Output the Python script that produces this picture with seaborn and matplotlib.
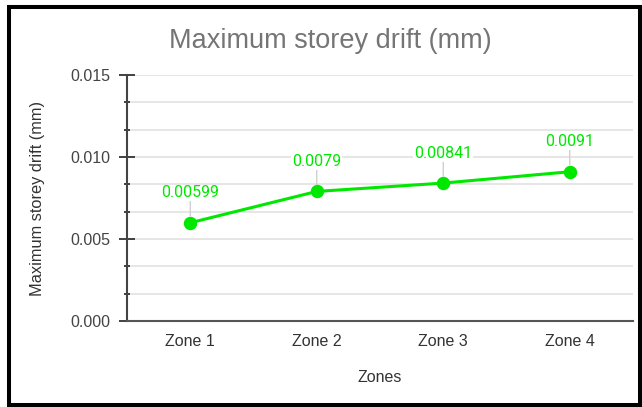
import matplotlib
matplotlib.use("Agg")
import matplotlib.pyplot as plt
import seaborn as sns
from matplotlib.patches import Rectangle
from matplotlib.ticker import MultipleLocator

# Data
zones = ["Zone 1", "Zone 2", "Zone 3", "Zone 4"]
drift = [0.00599, 0.0079, 0.00841, 0.0091]
drift_labels = ["0.00599", "0.0079", "0.00841", "0.0091"]

sns.set_theme(style="white")
plt.rcParams["font.family"] = ["Liberation Sans", "DejaVu Sans"]

W, H = 642, 407
fig = plt.figure(figsize=(W / 100, H / 100), dpi=100)
ax = fig.add_axes([127 / W, 1 - 321 / H, (633 - 127) / W, (321 - 75) / H])

green = "#00e800"
sns.pointplot(x=zones, y=drift, color=green, markers="o",
              markersize=8, linewidth=2.2, ax=ax)

ax.set_xlim(-0.5, 3.5)
ax.set_ylim(0, 0.015)
ax.yaxis.set_major_locator(MultipleLocator(0.005))
ax.yaxis.set_minor_locator(MultipleLocator(0.005 / 3))
ax.yaxis.set_major_formatter(matplotlib.ticker.FormatStrFormatter("%.3f"))

# grid
ax.grid(True, axis="y", which="both", color="#e2e2e2", linewidth=1.2)
ax.set_axisbelow(True)

# spines
for s in ["top", "right"]:
    ax.spines[s].set_visible(False)
ax.spines["left"].set_color("#444444")
ax.spines["left"].set_linewidth(1.5)
ax.spines["bottom"].set_color("#555555")
ax.spines["bottom"].set_linewidth(1.5)

ax.tick_params(axis="y", which="major", direction="inout", length=11.5,
               width=1.3, color="#333333", labelsize=11.5, labelcolor="#444444", pad=6.5, left=True)
ax.tick_params(axis="y", which="minor", direction="inout", length=4.5,
               width=1.3, color="#333333", left=True)
ax.tick_params(axis="x", length=0, labelsize=11.5, labelcolor="#333333", pad=9)

# data labels with leader lines
for i, (v, lab) in enumerate(zip(drift, drift_labels)):
    ax.annotate(lab, xy=(i, v), xytext=(0, 21.5), textcoords="offset points",
                ha="center", va="center", fontsize=11.5, color=green,
                family=["Roboto", "DejaVu Sans"],
                bbox=dict(boxstyle="square,pad=0.05", fc="white", ec="none"),
                arrowprops=dict(arrowstyle="-", color="#d0d0d0", lw=1,
                                shrinkA=0, shrinkB=5))

ax.set_xlabel("Zones", fontsize=11.5, color="#333333")
ax.xaxis.set_label_coords(0.5, -(377 - 321) / (321 - 75))
ax.xaxis.label.set_va("center")
ax.set_ylabel("Maximum storey drift (mm)", fontsize=11.8, color="#333333")
ax.yaxis.set_label_coords(-(127 - 38) / (633 - 127), 0.5)
ax.yaxis.label.set_va("center")

fig.text(330 / W, 1 - 41 / H, "Maximum storey drift (mm)", ha="center", va="center",
         fontsize=19.5, color="#757575")

# black frame around the chart
fig.patches.append(Rectangle((9 / W, 1 - 404.5 / H), (640 - 9) / W, (404.5 - 6.5) / H,
                             transform=fig.transFigure, fill=False, ec="black", lw=2.9))

fig.savefig("out.png", dpi=100)
